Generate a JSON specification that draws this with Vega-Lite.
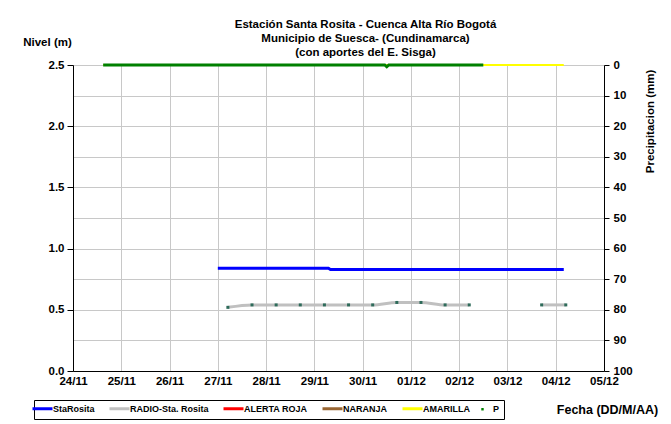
{
  "$schema": "https://vega.github.io/schema/vega-lite/v6.json",
  "width": 531,
  "height": 306,
  "autosize": "none",
  "padding": {"left": 73, "top": 65, "right": 67, "bottom": 53},
  "background": "white",
  "config": {
    "font": "Liberation Sans",
    "view": {"stroke": null},
    "axis": {
      "labelFont": "Liberation Sans",
      "labelFontWeight": "bold",
      "labelColor": "black",
      "titleFont": "Liberation Sans",
      "titleFontWeight": "bold",
      "titleColor": "black",
      "domainColor": "black",
      "tickColor": "black",
      "gridColor": "#c8c8c8"
    }
  },
  "title": {
    "text": ["Estación Santa Rosita - Cuenca Alta Río Bogotá", "Municipio de Suesca- (Cundinamarca)", "(con aportes del  E. Sisga)"],
    "anchor": "middle",
    "frame": "group",
    "font": "Liberation Sans",
    "fontSize": 11.5,
    "fontWeight": "bold",
    "lineHeight": 14,
    "offset": 8,
    "dy": 30,
    "dx": 27,
    "color": "black"
  },
  "data": {
    "values": [
      {"series": "AMARILLA", "t": "2023-11-24T15:00", "v": 2.5, "seg": 1},
      {"series": "AMARILLA", "t": "2023-12-04T04:00", "v": 2.5, "seg": 1},
      {"series": "StaRosita", "t": "2023-11-27T00:00", "v": 0.84, "seg": 1},
      {"series": "StaRosita", "t": "2023-11-29T07:00", "v": 0.84, "seg": 1},
      {"series": "StaRosita", "t": "2023-11-29T08:00", "v": 0.83, "seg": 1},
      {"series": "StaRosita", "t": "2023-12-04T04:00", "v": 0.83, "seg": 1},
      {"series": "RADIO-Sta. Rosita", "t": "2023-11-27T05:00", "v": 0.52, "seg": 1},
      {"series": "RADIO-Sta. Rosita", "t": "2023-11-27T17:00", "v": 0.54, "seg": 1},
      {"series": "RADIO-Sta. Rosita", "t": "2023-11-28T05:00", "v": 0.54, "seg": 1},
      {"series": "RADIO-Sta. Rosita", "t": "2023-11-28T17:00", "v": 0.54, "seg": 1},
      {"series": "RADIO-Sta. Rosita", "t": "2023-11-29T05:00", "v": 0.54, "seg": 1},
      {"series": "RADIO-Sta. Rosita", "t": "2023-11-29T17:00", "v": 0.54, "seg": 1},
      {"series": "RADIO-Sta. Rosita", "t": "2023-11-30T05:00", "v": 0.54, "seg": 1},
      {"series": "RADIO-Sta. Rosita", "t": "2023-11-30T17:00", "v": 0.56, "seg": 1},
      {"series": "RADIO-Sta. Rosita", "t": "2023-12-01T05:00", "v": 0.56, "seg": 1},
      {"series": "RADIO-Sta. Rosita", "t": "2023-12-01T17:00", "v": 0.54, "seg": 1},
      {"series": "RADIO-Sta. Rosita", "t": "2023-12-02T05:00", "v": 0.54, "seg": 1},
      {"series": "RADIO-Sta. Rosita", "t": "2023-12-03T17:00", "v": 0.54, "seg": 2},
      {"series": "RADIO-Sta. Rosita", "t": "2023-12-04T05:00", "v": 0.54, "seg": 2},
      {"series": "P", "t": "2023-11-24T15:00", "v": 0, "seg": 1},
      {"series": "P", "t": "2023-11-25T03:00", "v": 0, "seg": 1},
      {"series": "P", "t": "2023-11-25T15:00", "v": 0, "seg": 1},
      {"series": "P", "t": "2023-11-26T03:00", "v": 0, "seg": 1},
      {"series": "P", "t": "2023-11-26T15:00", "v": 0, "seg": 1},
      {"series": "P", "t": "2023-11-27T03:00", "v": 0, "seg": 1},
      {"series": "P", "t": "2023-11-27T15:00", "v": 0, "seg": 1},
      {"series": "P", "t": "2023-11-28T03:00", "v": 0, "seg": 1},
      {"series": "P", "t": "2023-11-28T15:00", "v": 0, "seg": 1},
      {"series": "P", "t": "2023-11-29T03:00", "v": 0, "seg": 1},
      {"series": "P", "t": "2023-11-29T15:00", "v": 0, "seg": 1},
      {"series": "P", "t": "2023-11-30T03:00", "v": 0, "seg": 1},
      {"series": "P", "t": "2023-11-30T11:00", "v": 0, "seg": 1},
      {"series": "P", "t": "2023-11-30T12:00", "v": 0.6, "seg": 1},
      {"series": "P", "t": "2023-11-30T13:00", "v": 0, "seg": 1},
      {"series": "P", "t": "2023-11-30T15:00", "v": 0, "seg": 1},
      {"series": "P", "t": "2023-12-01T03:00", "v": 0, "seg": 1},
      {"series": "P", "t": "2023-12-01T15:00", "v": 0, "seg": 1},
      {"series": "P", "t": "2023-12-02T03:00", "v": 0, "seg": 1},
      {"series": "P", "t": "2023-12-02T12:00", "v": 0, "seg": 1}
    ]
  },
  "encoding": {
    "x": {
      "field": "t",
      "type": "temporal",
      "scale": {"domain": ["2023-11-24T00:00", "2023-12-05T00:00"]},
      "axis": {
        "title": "Fecha (DD/M/AA)",
        "format": "%d/%m",
        "tickCount": {"interval": "day", "step": 1},
        "grid": true,
        "ticks": false,
        "labelPadding": 4,
        "labelFlush": false,
        "labelOverlap": false,
        "labelFontSize": 11.5,
        "titleFontSize": 12.5,
        "titleX": 534,
        "titleY": 38,
        "titleAlign": "center",
        "titleBaseline": "middle"
      }
    },
    "color": {
      "field": "series",
      "type": "nominal",
      "scale": {
        "domain": ["StaRosita", "RADIO-Sta. Rosita", "ALERTA ROJA", "NARANJA", "AMARILLA", "P"],
        "range": ["#0000FF", "#C0C0C0", "#FF0000", "#996633", "#FFFF00", "#008000"]
      },
      "legend": {
        "orient": "none",
        "legendX": -39,
        "legendY": 335,
        "direction": "horizontal",
        "title": null,
        "strokeColor": "black",
        "fillColor": "white",
        "padding": 4,
        "symbolType": "stroke",
        "symbolSize": 400,
        "symbolStrokeWidth": 3,
        "labelFont": "Liberation Sans",
        "labelFontSize": 9,
        "labelFontWeight": "bold",
        "labelColor": "black",
        "labelOffset": 6,
        "columnPadding": 8,
        "encode": {
          "symbols": {
            "update": {
              "shape": {"signal": "datum.label === 'P' ? 'square' : 'stroke'"},
              "size": {"signal": "datum.label === 'P' ? 6 : 400"},
              "fill": {"signal": "datum.label === 'P' ? '#008000' : 'transparent'"},
              "strokeWidth": {"signal": "datum.label === 'P' ? 0 : 3"}
            }
          }
        }
      }
    }
  },
  "layer": [
    {
      "encoding": {
        "y": {
          "field": "v",
          "type": "quantitative",
          "scale": {"domain": [0, 2.5]},
          "axis": {
            "title": "Nivel (m)",
            "values": [0, 0.5, 1, 1.5, 2, 2.5],
            "format": ".1f",
            "grid": false,
            "tickSize": 6,
            "labelPadding": 3,
            "labelFontSize": 11.5,
            "titleFontSize": 11.5,
            "titleAngle": 0,
            "titleX": -26,
            "titleY": -23,
            "titleAlign": "center",
            "titleBaseline": "middle"
          }
        }
      },
      "layer": [
        {
          "transform": [{"filter": "datum.series === 'AMARILLA'"}],
          "mark": {"type": "line", "strokeWidth": 2}
        },
        {
          "transform": [{"filter": "datum.series === 'StaRosita'"}],
          "mark": {"type": "line", "strokeWidth": 3}
        },
        {
          "transform": [{"filter": "datum.series === 'RADIO-Sta. Rosita'"}],
          "mark": {"type": "line", "strokeWidth": 3, "interpolate": "monotone"},
          "encoding": {"detail": {"field": "seg", "type": "nominal"}}
        },
        {
          "transform": [{"filter": "datum.series === 'RADIO-Sta. Rosita'"}],
          "mark": {"type": "square", "size": 9, "opacity": 1, "filled": true},
          "encoding": {"color": {"value": "#2E6B5A"}}
        }
      ]
    },
    {
      "transform": [{"filter": "datum.series === 'P'"}],
      "mark": {"type": "line", "strokeWidth": 3},
      "encoding": {
        "y": {
          "field": "v",
          "type": "quantitative",
          "scale": {"domain": [0, 100], "reverse": true},
          "axis": {
            "orient": "right",
            "title": "Precipitacion (mm)",
            "values": [0, 10, 20, 30, 40, 50, 60, 70, 80, 90, 100],
            "grid": true,
            "tickSize": 5,
            "labelPadding": 4,
            "labelFontSize": 11.5,
            "titleFontSize": 11.5,
            "titleAngle": 270,
            "titleX": 46,
            "titleY": 56,
            "titleAlign": "center",
            "titleBaseline": "middle"
          }
        }
      }
    }
  ],
  "resolve": {"scale": {"y": "independent"}}
}
